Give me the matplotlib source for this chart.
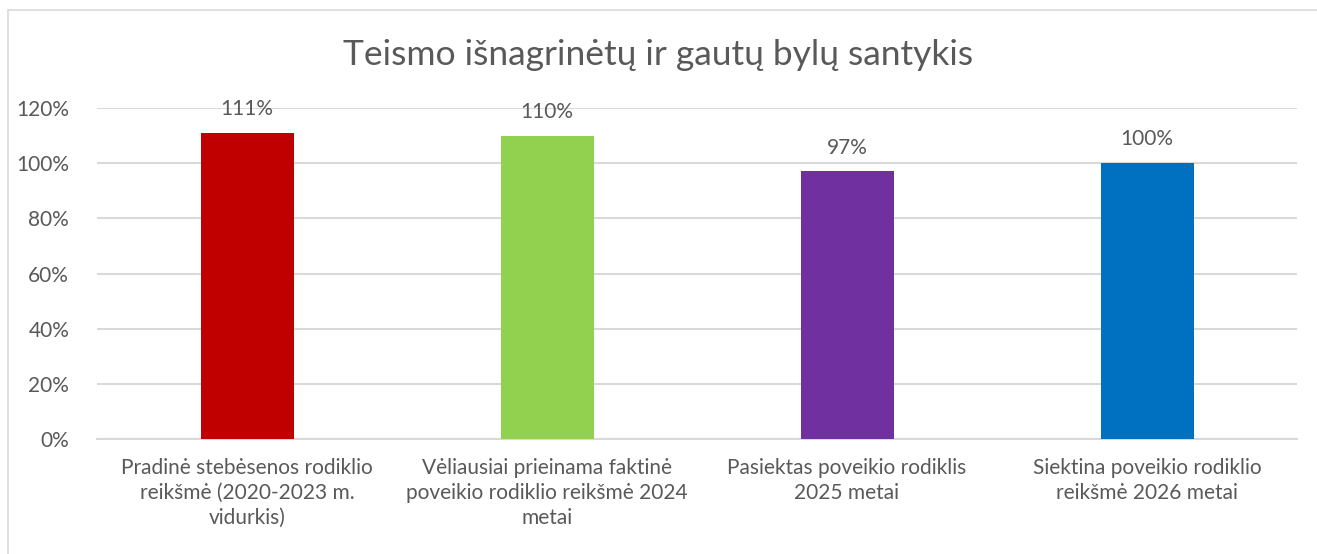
import numpy as np
import matplotlib.pyplot as plt
from matplotlib.patches import Rectangle
from matplotlib.ticker import FuncFormatter

plt.rcParams['font.family'] = ['Lato', 'DejaVu Sans']

# duomenys
categories = [
    "Pradinė stebėsenos rodiklio\nreikšmė (2020-2023 m.\nvidurkis)",
    "Vėliausiai prieinama faktinė\npoveikio rodiklio reikšmė 2024\nmetai",
    "Pasiektas poveikio rodiklis\n2025 metai",
    "Siektina poveikio rodiklio\nreikšmė 2026 metai",
]
values = [111, 110, 97, 100]
colors = ["#C00000", "#92D050", "#7030A0", "#0070C0"]
yticks = [0, 20, 40, 60, 80, 100, 120]

text_col = "#595959"
grid_col = "#D9D9D9"

fig = plt.figure(figsize=(13.17, 5.54), dpi=100)
fig.patches.append(Rectangle((8 / 1317, -0.01), 1.0, 1 - 10 / 554 + 0.01,
                             transform=fig.transFigure, fill=False,
                             edgecolor=grid_col, linewidth=1.2))

ax = fig.add_axes([97 / 1317, 1 - 439 / 554, 1200 / 1317, 331 / 554])

x = np.arange(len(categories))
ax.bar(x, values, width=0.31, color=colors, zorder=3)

for xi, v in zip(x, values):
    ax.text(xi, v + 5, f"{v}%", ha="center", va="bottom",
            fontsize=15, color=text_col)

ax.set_xlim(-0.5, len(categories) - 0.5)
ax.set_ylim(0, 120)
ax.set_yticks(yticks)
ax.yaxis.set_major_formatter(FuncFormatter(lambda v, p: f"{v:.0f}%"))
ax.set_xticks(x)
ax.set_xticklabels(categories, fontsize=15, color=text_col, linespacing=1.3)
ax.tick_params(axis="y", labelsize=15, labelcolor=text_col, length=0, pad=20)
ax.tick_params(axis="x", length=0, pad=14)

ax.grid(axis="y", color=grid_col, linewidth=1.5, zorder=0)
for s in ["top", "right", "left"]:
    ax.spines[s].set_visible(False)
ax.spines["bottom"].set_color(grid_col)
ax.spines["bottom"].set_linewidth(1.5)

fig.text(0.5, 1 - 55 / 554, "Teismo išnagrinėtų ir gautų bylų santykis",
         ha="center", va="center", fontsize=25.5, color=text_col)

fig.savefig("out.png", dpi=100)
